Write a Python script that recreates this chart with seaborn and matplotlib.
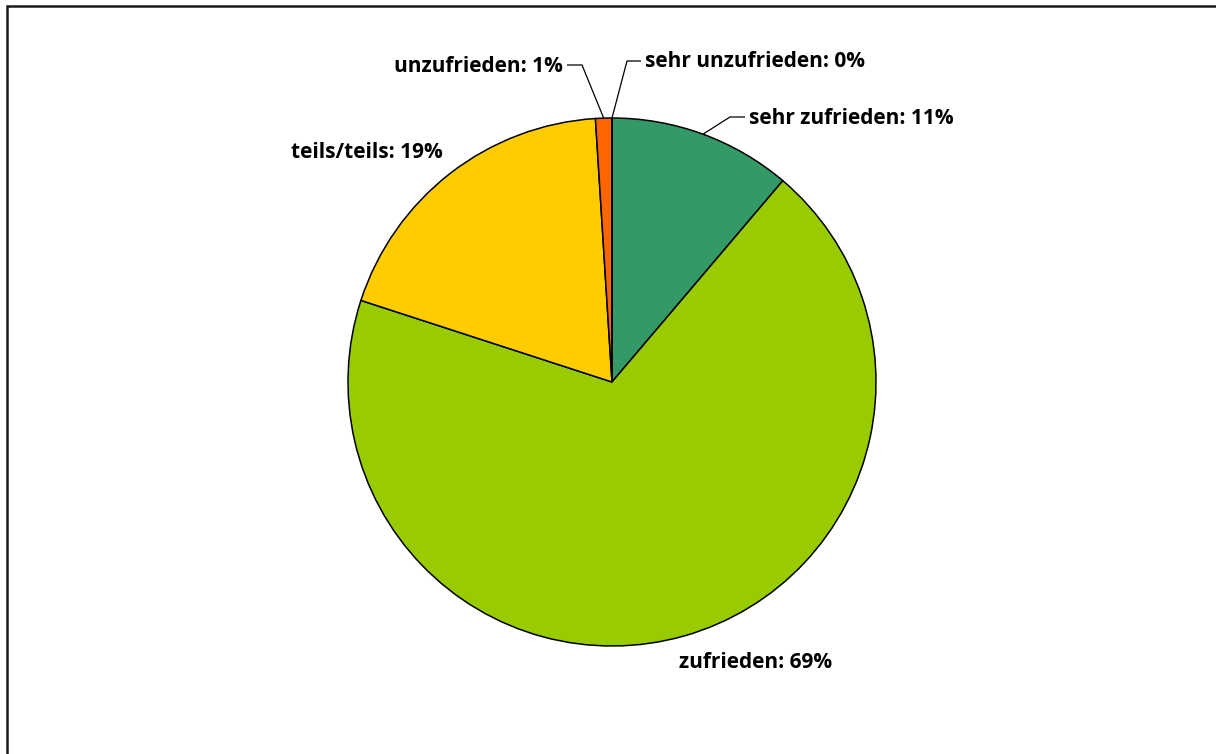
import matplotlib
matplotlib.use("Agg")
import matplotlib.pyplot as plt
import numpy as np
import seaborn as sns
from matplotlib.patches import Rectangle

# Satisfaction survey shares (percent)
categories = ["sehr zufrieden", "zufrieden", "teils/teils", "unzufrieden", "sehr unzufrieden"]
shares = [11.2, 68.8, 19.0, 1.0, 0.0]
colors = ["#339966", "#99CC00", "#FFCC00", "#FF6600", "#FF0000"]

sns.set_theme(style="white")
plt.rcParams["font.family"] = ["Open Sans", "DejaVu Sans"]

W, H = 1216, 754
CX, CY, R = 612, 382, 264  # pie centre and radius in pixels


def px(x, y):
    """Pixel position -> data coordinates (pie radius = 1)."""
    return (x - CX) / R, (CY - y) / R


fig = plt.figure(figsize=(W / 100, H / 100), dpi=100)
ax = fig.add_axes([0, 0, 1, 1])

wedges, _ = ax.pie(
    shares,
    colors=colors,
    startangle=90,
    counterclock=False,
    radius=1,
    wedgeprops=dict(edgecolor="black", linewidth=1.1),
)
ax.set_xlim(-CX / R, (W - CX) / R)
ax.set_ylim(-(H - CY) / R, CY / R)
ax.set_aspect("auto")
ax.axis("off")

# label layout: (text x, text y, horizontal alignment, leader elbow, leader end) in pixels
layout = {
    "sehr zufrieden": (749, 118, "left", (730, 117), (745, 117)),
    "zufrieden": (756, 662, "center", None, None),
    "teils/teils": (367, 152, "center", None, None),
    "unzufrieden": (563, 66, "right", (582, 65), (567, 65)),
    "sehr unzufrieden": (645, 61, "left", (627, 61), (641, 61)),
}

for w, cat, val in zip(wedges, categories, shares):
    tx, ty, ha, elbow, end = layout[cat]
    ax.text(*px(tx, ty), f"{cat}: {round(val)}%", ha=ha, va="center",
            fontsize=15, fontweight="bold", color="black")
    if elbow is not None:
        mid = np.deg2rad((w.theta1 + w.theta2) / 2)
        start = (np.cos(mid), np.sin(mid))
        ex, ey = px(*elbow)
        nx, ny = px(*end)
        ax.plot([start[0], ex, nx], [start[1], ey, ny], color="black", lw=0.9,
                solid_capstyle="butt")

# chart-area frame
fig.patches.append(Rectangle((7 / W, -0.1), 1.2, 1 - 6 / H + 0.1,
                             transform=fig.transFigure, fill=False,
                             edgecolor="#1a1a1a", linewidth=1.8))

fig.savefig("out.png", dpi=100, facecolor="white")
